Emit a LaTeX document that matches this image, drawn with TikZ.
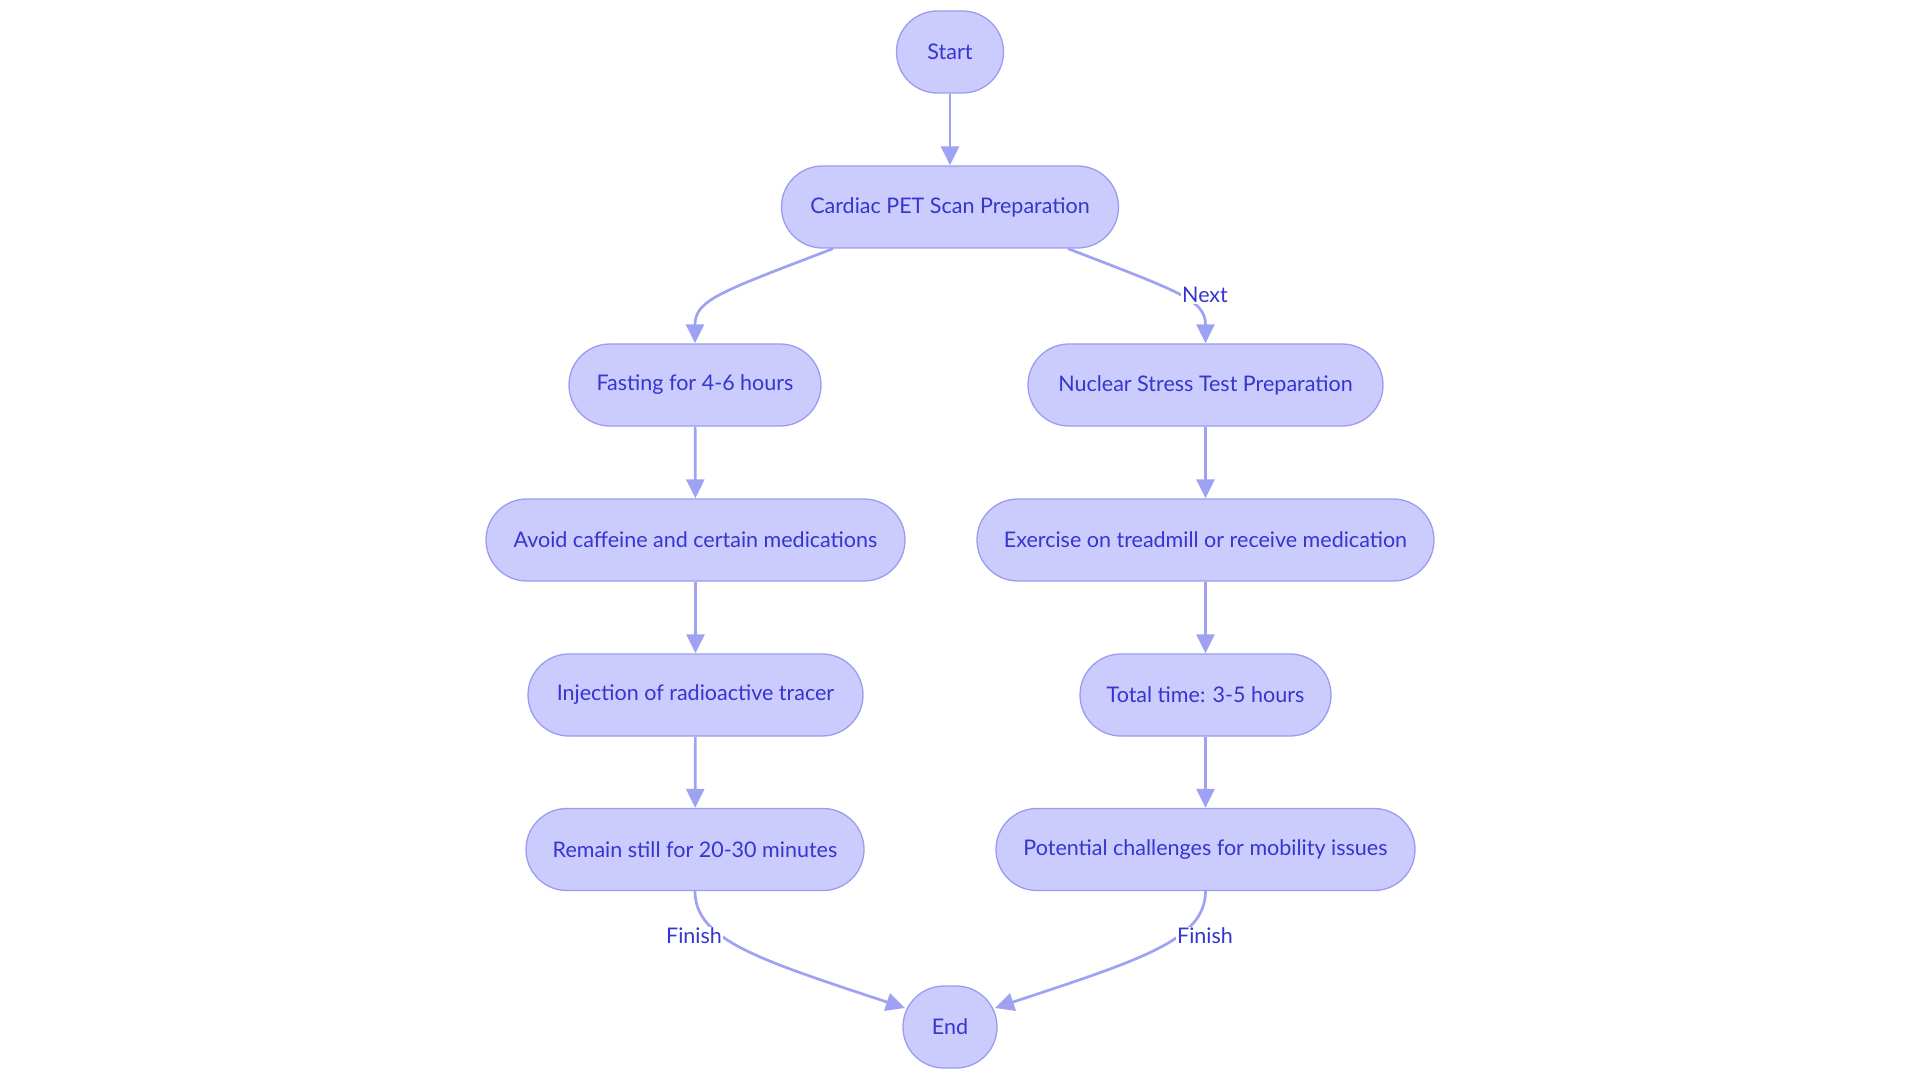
\documentclass[tikz,border=0pt]{standalone}
\usepackage{fontspec}
\setmainfont{Lato}
\usetikzlibrary{arrows.meta,calc}
\definecolor{nodefill}{HTML}{CBCCFD}
\definecolor{nodeborder}{HTML}{9A9CEF}
\definecolor{txtcol}{HTML}{3535CF}
\definecolor{edgecol}{HTML}{9FA1F3}
\tikzset{
  box/.style={draw=nodeborder, fill=nodefill, line width=1.3pt, rectangle,
    rounded corners=40.9pt, minimum height=82pt, inner sep=0pt,
    text=txtcol, font=\fontsize{21.5}{26}\selectfont},
  conn/.style={draw=edgecol, line width=2.7pt,
    -{Triangle[length=19pt,width=18pt]}},
  lbl/.style={fill=white, text=txtcol, inner sep=1pt,
    font=\fontsize{21.5}{26}\selectfont}
}
\begin{document}
\begin{tikzpicture}[x=1pt,y=-1pt]
\useasboundingbox (0,0) rectangle (1920,1083);
\node[box, minimum width=107pt] (start) at (950,52) {Start};
\node[box, minimum width=337pt] (cardiac) at (950,207) {Cardiac PET Scan Preparation};
\node[box, minimum width=252pt] (fasting) at (695,385) {Fasting for 4-6 hours};
\node[box, minimum width=355pt] (nuclear) at (1205.5,385) {Nuclear Stress Test Preparation};
\node[box, minimum width=419pt] (avoid) at (695.5,540) {Avoid caffeine and certain medications};
\node[box, minimum width=457pt] (exercise) at (1205.5,540) {Exercise on treadmill or receive medication};
\node[box, minimum width=335pt] (inject) at (695.5,695) {Injection of radioactive tracer};
\node[box, minimum width=251pt] (total) at (1205.5,695) {Total time: 3-5 hours};
\node[box, minimum width=338pt] (remain) at (695,849.5) {Remain still for 20-30 minutes};
\node[box, minimum width=419pt] (potential) at (1205.5,849.5) {Potential challenges for mobility issues};
\node[box, minimum width=94pt] (endn) at (950,1027) {End};

\draw[conn] (start) -- (cardiac);
\draw[conn] ($(cardiac.south)+(-117,0)$) .. controls (720,292) and (695,300) .. (fasting.north);
\draw[conn] ($(cardiac.south)+(118,0)$) .. controls (1180,292) and (1205.5,300) .. (nuclear.north);
\draw[conn] (fasting) -- (avoid);
\draw[conn] (avoid) -- (inject);
\draw[conn] (inject) -- (remain);
\draw[conn] (nuclear) -- (exercise);
\draw[conn] (exercise) -- (total);
\draw[conn] (total) -- (potential);
\draw[conn] (remain.south) .. controls (695,940) and (760,960) .. ($(endn.center)+(-45,-19)$);
\draw[conn] (potential.south) .. controls (1205.5,940) and (1140,960) .. ($(endn.center)+(45,-19)$);

\node[lbl] (lnext) at (1205,295) {Next};
\node[lbl] (lfin1) at (694,935.5) {Finish};
\node[lbl] (lfin2) at (1205,935.5) {Finish};
\end{tikzpicture}
\end{document}
